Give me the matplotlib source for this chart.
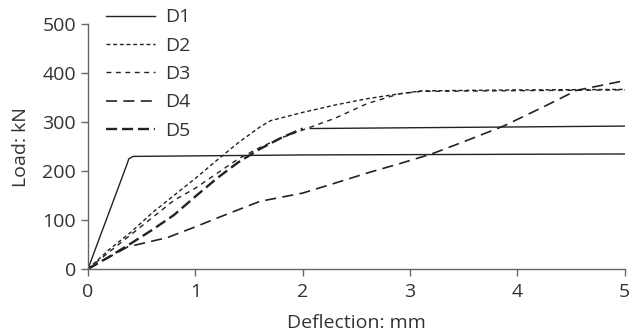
import matplotlib
matplotlib.use("Agg")
import matplotlib.pyplot as plt

plt.rcParams['font.family'] = ['Open Sans', 'DejaVu Sans']
plt.rcParams['lines.scale_dashes'] = False

# load-deflection curves
d1_x = [0, 0.36, 0.38, 0.42, 2.0, 5.0]
d1_y = [0, 212, 225, 230, 233, 235]

d2_x = [0, 0.2, 0.4, 0.6, 0.8, 1.0, 1.2, 1.4, 1.6, 1.7, 2.0, 2.3, 2.6, 2.9, 3.1, 4.0, 5.0]
d2_y = [0, 40, 75, 115, 150, 185, 222, 258, 290, 303, 320, 335, 348, 358, 364, 366, 367]

d3_x = [0, 0.2, 0.4, 0.6, 0.8, 1.0, 1.2, 1.4, 1.6, 1.8, 2.0, 2.3, 2.6, 2.9, 3.1, 5.0]
d3_y = [0, 35, 70, 105, 140, 165, 195, 225, 248, 268, 284, 308, 338, 358, 363, 366]

d4_x = [0, 0.37, 0.74, 1.0, 1.25, 1.6, 2.0, 2.34, 2.6, 2.9, 3.2, 3.5, 3.87, 4.24, 4.55, 5.0]
d4_y = [0, 45, 64, 86, 108, 138, 155, 178, 196, 215, 235, 260, 292, 331, 365, 385]

d5_x = [0, 0.2, 0.4, 0.6, 0.8, 1.0, 1.2, 1.4, 1.6, 1.8, 2.0]
d5_y = [0, 25, 52, 80, 110, 148, 185, 218, 245, 268, 287]
d5_plateau_x = [2.07, 5.0]
d5_plateau_y = [287, 292]

ink = '#222222'
grey = '#666666'
txt = '#333333'
fs = 14

fig = plt.figure(figsize=(6.33, 3.34), dpi=100)
ax = fig.add_axes([0.139, 0.195, 0.848, 0.732])

ax.plot(d1_x, d1_y, color=ink, lw=1.0, label='D1')
ax.plot(d2_x, d2_y, color=ink, lw=1.0, dashes=(2.8, 2.0), label='D2')
ax.plot(d3_x, d3_y, color=ink, lw=1.0, dashes=(3.5, 3.3), label='D3')
ax.plot(d4_x, d4_y, color=ink, lw=1.2, dashes=(8, 4.5), label='D4')
ax.plot(d5_x, d5_y, color=ink, lw=1.7, dashes=(8, 3.5), label='D5')
ax.plot(d5_plateau_x, d5_plateau_y, color=ink, lw=1.0)

ax.set_xlim(0, 5)
ax.set_ylim(0, 500)
ax.set_xticks([0, 1, 2, 3, 4, 5])
ax.set_yticks([0, 100, 200, 300, 400, 500])

for side in ['top', 'right']:
    ax.spines[side].set_visible(False)
for side in ['left', 'bottom']:
    ax.spines[side].set_color(grey)
    ax.spines[side].set_linewidth(1.0)
ax.tick_params(colors=grey, labelcolor=txt, labelsize=fs, length=5, width=1.0)
ax.tick_params(axis='x', pad=5.5)

ax.set_xlabel('Deflection: mm', fontsize=fs, color=txt, labelpad=9)
ax.set_ylabel('Load: kN', fontsize=fs, color=txt, labelpad=9)

ax.legend(loc='upper left', bbox_to_anchor=(0.016, 1.105), frameon=False,
          fontsize=fs, handlelength=2.5, handletextpad=0.55,
          labelspacing=0.53, borderpad=0, labelcolor=txt)

fig.savefig('out.png', dpi=100)
